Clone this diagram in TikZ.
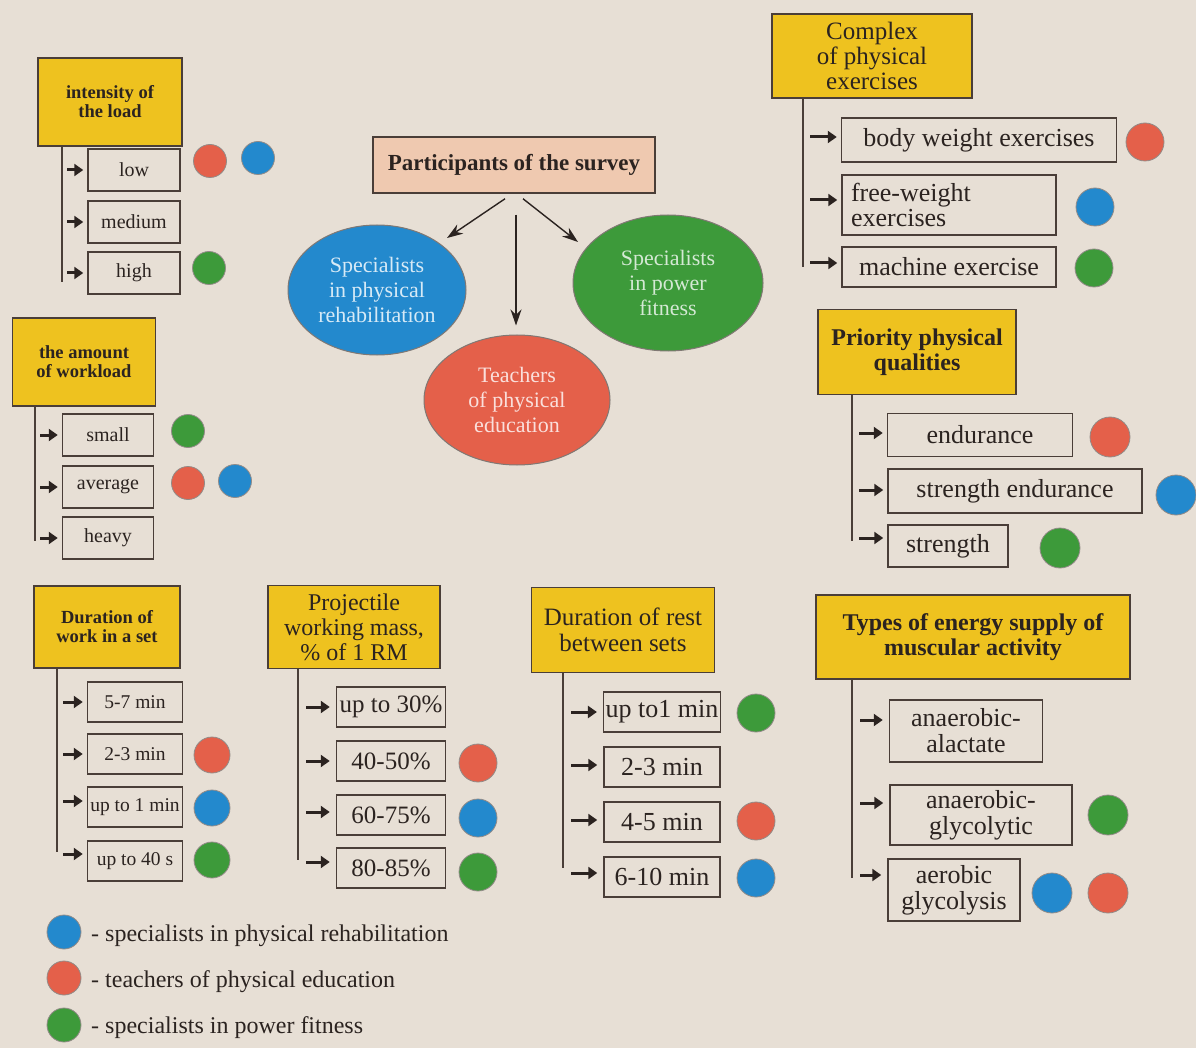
\documentclass[tikz,border=0pt]{standalone}
\usepackage{fontspec}
\setmainfont{Liberation Serif}
\usetikzlibrary{calc, arrows.meta, shapes.geometric}
\definecolor{paper}{HTML}{E7DFD5}
\definecolor{gold}{HTML}{EEC21F}
\definecolor{peach}{HTML}{EFC9B0}
\definecolor{ink}{HTML}{2B2320}
\definecolor{frame}{HTML}{4A3E38}
\definecolor{tred}{HTML}{E4604A}
\definecolor{tblue}{HTML}{2389CD}
\definecolor{tgreen}{HTML}{3D9A3A}
\newcommand{\fsz}[2]{\fontsize{#1}{#2}\selectfont}
\tikzset{
  head/.style={draw=frame, fill=gold, line width=1.5pt, align=center, inner sep=2pt, text=ink},
  item/.style={draw=frame, line width=1.5pt, align=center, inner sep=2pt, text=ink},
  dot/.style={circle, draw=frame!60, line width=0.8pt, inner sep=0pt, minimum size=#1},
  oval/.style={ellipse, draw=frame!70, line width=1pt, align=center, inner sep=0pt, font=\fsz{22}{25}},
  trunk/.style={draw=frame, line width=1.6pt},
  pointer/.style={draw=ink, line width=3pt, -{Triangle[length=9pt,width=12pt]}},
  link/.style={draw=ink, line width=1.4pt, -{Stealth[length=16pt,width=11pt]}}
}

\begin{document}
\begin{tikzpicture}[x=1pt, y=-1pt]
    \useasboundingbox (0,0) rectangle (1196,1048);
    \fill[paper] (0,0) rectangle (1196,1048);

    % survey participants
    \node[draw=frame, fill=peach, line width=1.5pt, text=ink, font=\fsz{23}{25}\bfseries, minimum width=282pt, minimum height=56pt] (participants) at (514,165) {Participants of the survey};
    \node[oval, fill=tblue, text=tblue!18, minimum width=178pt, minimum height=130pt] (rehab) at (377,290) {Specialists\\in physical\\rehabilitation};
    \node[oval, fill=tgreen, text=tgreen!22, minimum width=190pt, minimum height=136pt] (power) at (668,283) {Specialists\\in power\\fitness};
    \node[oval, fill=tred, text=tred!20, minimum width=186pt, minimum height=130pt] (teach) at (517,400) {Teachers\\of physical\\education};
    \draw[link] ($(participants.south)+(-9,5)$) -- ($(rehab.center)+(70,-52)$);
    \draw[link] ($(participants.south)+(9,5)$) -- ($(power.center)+(-90,-41)$);
    \draw[link] ($(participants.south)+(2,21)$) -- ($(teach.north)+(-1,-9)$);

    % intensity of the load
    \node[head, font=\fsz{18.5}{19}\bfseries, minimum width=144pt, minimum height=88pt] (intensity) at (110,102) {intensity of\\the load};
    \node[item, font=\fsz{20}{22}, minimum width=92pt, minimum height=42pt] (low) at (134,170) {low};
    \node[item, font=\fsz{20}{22}, minimum width=92pt, minimum height=42pt] (medium) at (134,222) {medium};
    \node[item, font=\fsz{20}{22}, minimum width=92pt, minimum height=42pt] (high) at (134,273) {high};
    \coordinate (endA) at (62,282);
    \draw[trunk] (endA |- intensity.south) -- (endA);
    \draw[pointer] ($(low.west -| endA)+(5,0)$) -- ($(low.west)+(-4,0)$);
    \draw[pointer] ($(medium.west -| endA)+(5,0)$) -- ($(medium.west)+(-4,0)$);
    \draw[pointer] ($(high.west -| endA)+(5,0)$) -- ($(high.west)+(-4,0)$);
    \node[dot=33pt, fill=tred] (lowR) at (210,161) {};
    \node[dot=33pt, fill=tblue] (lowB) at (258,158) {};
    \node[dot=33pt, fill=tgreen] (highG) at (209,268) {};

    % amount of workload
    \node[head, font=\fsz{18.5}{19}\bfseries, minimum width=143pt, minimum height=88pt] (amount) at (84,362) {the amount\\of workload};
    \node[item, font=\fsz{20}{22}, minimum width=91pt, minimum height=42pt] (small) at (108,435) {small};
    \node[item, font=\fsz{20}{22}, minimum width=91pt, minimum height=42pt] (average) at (108,487) {average};
    \node[item, font=\fsz{20}{22}, minimum width=91pt, minimum height=42pt] (heavy) at (108,538) {heavy};
    \coordinate (endB) at (35,541);
    \draw[trunk] (endB |- amount.south) -- (endB);
    \draw[pointer] ($(small.west -| endB)+(5,0)$) -- ($(small.west)+(-4,0)$);
    \draw[pointer] ($(average.west -| endB)+(5,0)$) -- ($(average.west)+(-4,0)$);
    \draw[pointer] ($(heavy.west -| endB)+(5,0)$) -- ($(heavy.west)+(-4,0)$);
    \node[dot=33pt, fill=tgreen] (smallG) at (188,431) {};
    \node[dot=33pt, fill=tred] (averageR) at (188,483) {};
    \node[dot=33pt, fill=tblue] (averageB) at (235,481) {};

    % complex of exercises
    \node[head, font=\fsz{25}{25}, minimum width=200pt, minimum height=84pt] (complex) at (872,56) {Complex\\of physical\\exercises};
    \node[item, font=\fsz{26}{26}, minimum width=275pt, minimum height=44pt] (body) at (979,140) {body weight exercises};
    \node[item, font=\fsz{26}{25}, align=left, text width=196pt, inner xsep=9pt, minimum height=60pt] (free) at (949,205) {free-weight\\exercises};
    \node[item, font=\fsz{26}{26}, minimum width=214pt, minimum height=40pt] (machine) at (949,267) {machine exercise};
    \coordinate (endC) at (803,267);
    \draw[trunk] (endC |- complex.south) -- (endC);
    \draw[pointer] ($(body.west -| endC)+(7,-3)$) -- ($(body.west)+(-4,-3)$);
    \draw[pointer] ($(free.west -| endC)+(7,-5)$) -- ($(free.west)+(-4,-5)$);
    \draw[pointer] ($(machine.west -| endC)+(7,-4)$) -- ($(machine.west)+(-4,-4)$);
    \node[dot=38pt, fill=tred] (bodyR) at (1145,142) {};
    \node[dot=38pt, fill=tblue] (freeB) at (1095,207) {};
    \node[dot=38pt, fill=tgreen] (machineG) at (1094,268) {};

    % priority qualities
    \node[head, font=\fsz{24}{25}\bfseries, minimum width=198pt, minimum height=85pt] (priority) at (917,352) {Priority physical\\qualities};
    \node[item, font=\fsz{26}{26}, minimum width=185pt, minimum height=43pt] (endurance) at (980,435) {endurance};
    \node[item, font=\fsz{26}{26}, minimum width=254pt, minimum height=44pt] (sendurance) at (1015,491) {strength endurance};
    \node[item, font=\fsz{26}{26}, minimum width=120pt, minimum height=42pt] (strength) at (948,546) {strength};
    \coordinate (endD) at (852,541);
    \draw[trunk] (endD |- priority.south) -- (endD);
    \draw[pointer] ($(endurance.west -| endD)+(7,-2)$) -- ($(endurance.west)+(-4,-2)$);
    \draw[pointer] ($(sendurance.west -| endD)+(7,-1)$) -- ($(sendurance.west)+(-4,-1)$);
    \draw[pointer] ($(strength.west -| endD)+(7,-8)$) -- ($(strength.west)+(-4,-8)$);
    \node[dot=40pt, fill=tred] (enduranceR) at (1110,437) {};
    \node[dot=40pt, fill=tblue] (sendurenceB) at (1176,495) {};
    \node[dot=40pt, fill=tgreen] (strengthG) at (1060,548) {};

    % duration of work in a set
    \node[head, font=\fsz{18.5}{19}\bfseries, minimum width=146pt, minimum height=82pt] (workset) at (107,627) {Duration of\\work in a set};
    \node[item, font=\fsz{19.5}{22}, minimum width=95pt, minimum height=40pt] (workA) at (135,702) {5-7 min};
    \node[item, font=\fsz{19.5}{22}, minimum width=95pt, minimum height=40pt] (workB) at (135,754) {2-3 min};
    \node[item, font=\fsz{19.5}{22}, minimum width=95pt, minimum height=40pt] (workC) at (135,807) {up to 1 min};
    \node[item, font=\fsz{19.5}{22}, minimum width=95pt, minimum height=40pt] (workD) at (135,861) {up to 40 s};
    \coordinate (endE) at (57,852);
    \draw[trunk] (endE |- workset.south) -- (endE);
    \draw[pointer] ($(workA.west -| endE)+(6,0)$) -- ($(workA.west)+(-4,0)$);
    \draw[pointer] ($(workB.west -| endE)+(6,0)$) -- ($(workB.west)+(-4,0)$);
    \draw[pointer] ($(workC.west -| endE)+(6,-6)$) -- ($(workC.west)+(-4,-6)$);
    \draw[pointer] ($(workD.west -| endE)+(6,-7)$) -- ($(workD.west)+(-4,-7)$);
    \node[dot=36pt, fill=tred] (workBR) at (212,755) {};
    \node[dot=36pt, fill=tblue] (workCB) at (212,808) {};
    \node[dot=36pt, fill=tgreen] (workDG) at (212,860) {};

    % working mass
    \node[head, font=\fsz{24}{25}, minimum width=172pt, minimum height=83pt] (mass) at (354,627) {Projectile\\working mass,\\\% of 1 RM};
    \node[item, font=\fsz{25}{26}, minimum width=109pt, minimum height=40pt] (massA) at (391,707) {up to 30\%};
    \node[item, font=\fsz{25}{26}, minimum width=109pt, minimum height=40pt] (massB) at (391,761) {40-50\%};
    \node[item, font=\fsz{25}{26}, minimum width=109pt, minimum height=40pt] (massC) at (391,815) {60-75\%};
    \node[item, font=\fsz{25}{26}, minimum width=109pt, minimum height=40pt] (massD) at (391,868) {80-85\%};
    \coordinate (endF) at (298,860);
    \draw[trunk] (endF |- mass.south) -- (endF);
    \draw[pointer] ($(massA.west -| endF)+(8,0)$) -- ($(massA.west)+(-6,0)$);
    \draw[pointer] ($(massB.west -| endF)+(8,0)$) -- ($(massB.west)+(-6,0)$);
    \draw[pointer] ($(massC.west -| endF)+(8,-3)$) -- ($(massC.west)+(-6,-3)$);
    \draw[pointer] ($(massD.west -| endF)+(8,-6)$) -- ($(massD.west)+(-6,-6)$);
    \node[dot=38pt, fill=tred] (massBR) at (478,763) {};
    \node[dot=38pt, fill=tblue] (massCB) at (478,818) {};
    \node[dot=38pt, fill=tgreen] (massDG) at (478,872) {};

    % rest between sets
    \node[head, font=\fsz{25}{26}, minimum width=183pt, minimum height=85pt] (rest) at (623,630) {Duration of rest\\between sets};
    \node[item, font=\fsz{26}{26}, minimum width=116pt, minimum height=40pt] (restA) at (662,712) {up to1 min};
    \node[item, font=\fsz{26}{26}, minimum width=116pt, minimum height=40pt] (restB) at (662,767) {2-3 min};
    \node[item, font=\fsz{26}{26}, minimum width=116pt, minimum height=40pt] (restC) at (662,822) {4-5 min};
    \node[item, font=\fsz{26}{26}, minimum width=116pt, minimum height=40pt] (restD) at (662,877) {6-10 min};
    \coordinate (endG) at (563,868);
    \draw[trunk] (endG |- rest.south) -- (endG);
    \draw[pointer] ($(restA.west -| endG)+(8,0)$) -- ($(restA.west)+(-6,0)$);
    \draw[pointer] ($(restB.west -| endG)+(8,-2)$) -- ($(restB.west)+(-6,-2)$);
    \draw[pointer] ($(restC.west -| endG)+(8,-2)$) -- ($(restC.west)+(-6,-2)$);
    \draw[pointer] ($(restD.west -| endG)+(8,-4)$) -- ($(restD.west)+(-6,-4)$);
    \node[dot=38pt, fill=tgreen] (restAG) at (756,713) {};
    \node[dot=38pt, fill=tred] (restCR) at (756,821) {};
    \node[dot=38pt, fill=tblue] (restDB) at (756,878) {};

    % energy supply
    \node[head, font=\fsz{24}{25}\bfseries, minimum width=314pt, minimum height=84pt] (energy) at (973,637) {Types of energy supply of\\muscular activity};
    \node[item, font=\fsz{26}{26}, minimum width=153pt, minimum height=62pt] (alactate) at (966,731) {anaerobic-\\alactate};
    \node[item, font=\fsz{26}{26}, minimum width=182pt, minimum height=60pt] (glycolytic) at (981,815) {anaerobic-\\glycolytic};
    \node[item, font=\fsz{26}{26}, minimum width=132pt, minimum height=62pt] (glycolysis) at (954,890) {aerobic\\glycolysis};
    \coordinate (endH) at (852,878);
    \draw[trunk] (endH |- energy.south) -- (endH);
    \draw[pointer] ($(alactate.west -| endH)+(8,-11)$) -- ($(alactate.west)+(-6,-11)$);
    \draw[pointer] ($(glycolytic.west -| endH)+(8,-12)$) -- ($(glycolytic.west)+(-6,-12)$);
    \draw[pointer] ($(glycolysis.west -| endH)+(8,-15)$) -- ($(glycolysis.west)+(-6,-15)$);
    \node[dot=40pt, fill=tgreen] (glycolyticG) at (1108,815) {};
    \node[dot=40pt, fill=tblue] (glycolysisB) at (1052,893) {};
    \node[dot=40pt, fill=tred] (glycolysisR) at (1108,893) {};

    % legend
    \node[dot=34pt, fill=tblue] (keyB) at (64,932) {};
    \node[dot=34pt, fill=tred] (keyR) at (64,978) {};
    \node[dot=34pt, fill=tgreen] (keyG) at (64,1025) {};
    \node[anchor=west, font=\fsz{24}{26}, text=ink, inner sep=2pt] (keyBtext) at (89,936) {- specialists in physical rehabilitation};
    \node[anchor=west, font=\fsz{24}{26}, text=ink, inner sep=2pt] (keyRtext) at (89,982) {- teachers of physical education};
    \node[anchor=west, font=\fsz{24}{26}, text=ink, inner sep=2pt] (keyGtext) at (89,1028) {- specialists in power fitness};
\end{tikzpicture}
\end{document}
